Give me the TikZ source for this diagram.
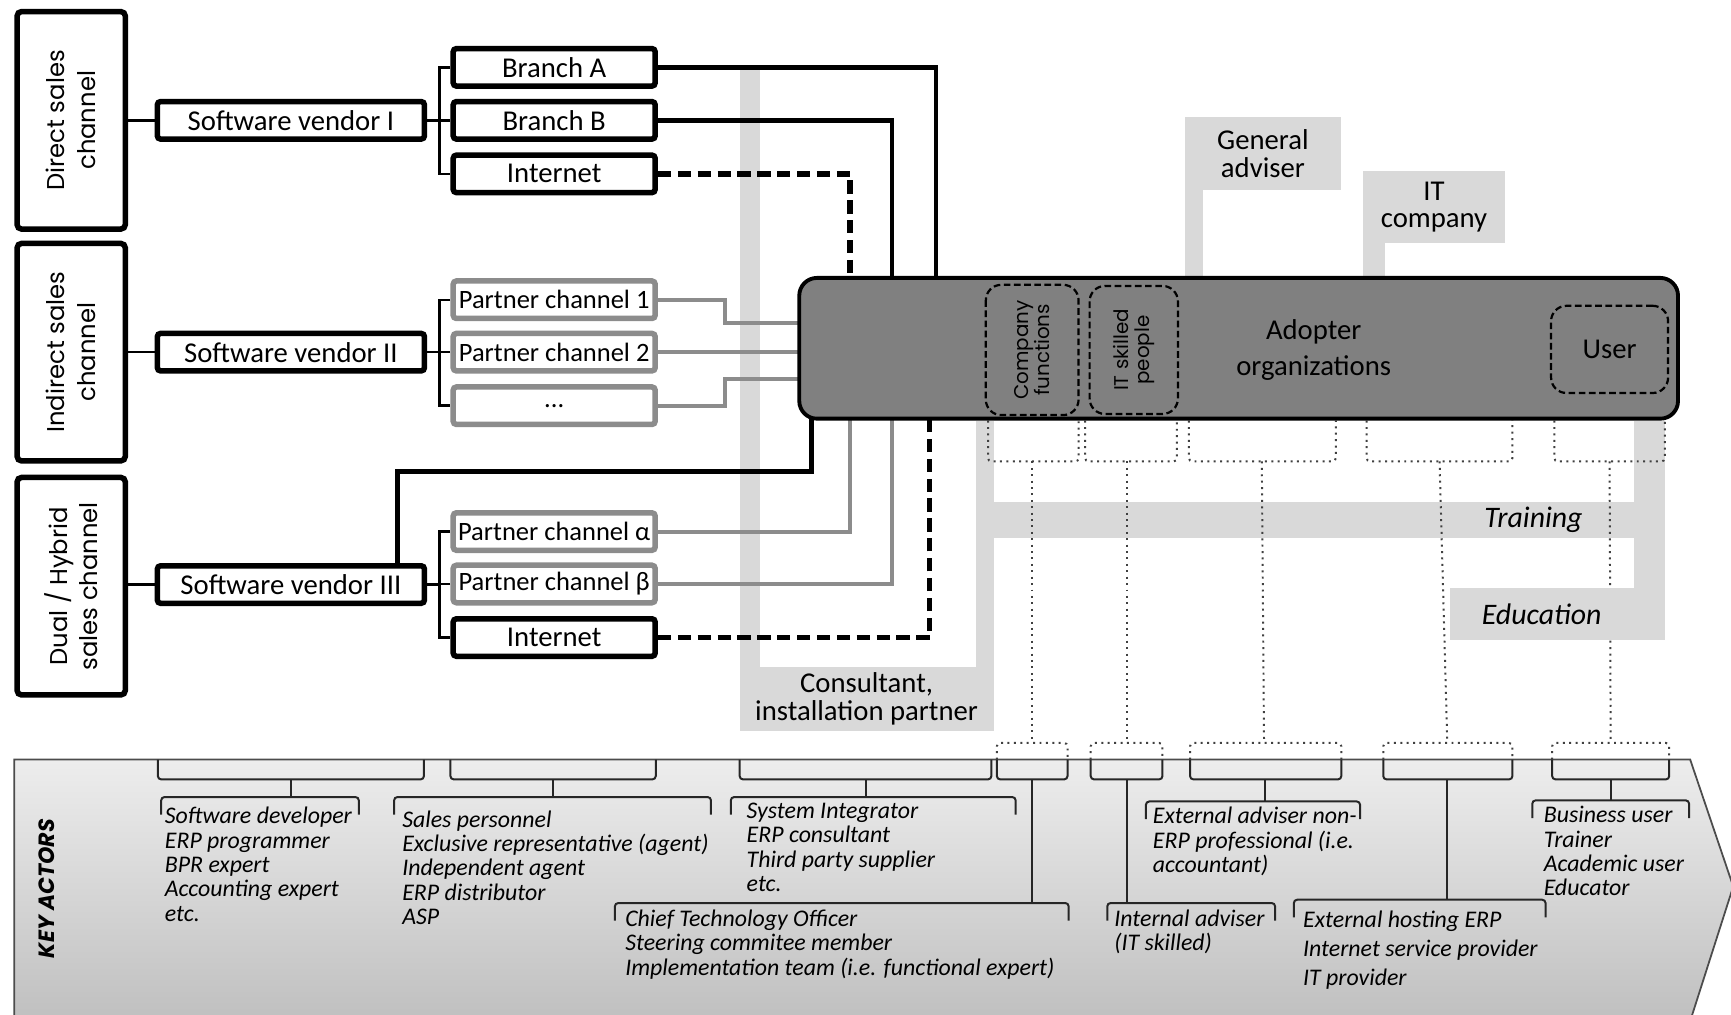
\documentclass[tikz,border=0pt]{standalone}
\usepackage{fontspec}
\setmainfont{Carlito}
\newfontfamily\geo{Poppins}
\usetikzlibrary{calc}
\definecolor{band}{HTML}{D9D9D9}
\definecolor{mgray}{HTML}{8C8C8C}
\definecolor{adop}{HTML}{808080}
\pgfdeclarelayer{back}
\pgfsetlayers{back,main}

\begin{document}
\begin{tikzpicture}[x=0.5pt,y=-0.5pt,
  box/.style={draw=black,line width=2.5pt,fill=white,rounded corners=1.5pt,inner sep=0pt,
    minimum width=91.5pt,minimum height=17pt,font=\fontsize{13}{15}\selectfont},
  pbox/.style={box,draw=mgray,font=\fontsize{12}{14}\selectfont},
  vendor/.style={box,minimum width=121pt},
  chan/.style={draw=black,line width=2.5pt,fill=white,rounded corners=2pt,inner sep=0pt,rotate=90,
    minimum width=98.5pt,minimum height=49pt,align=center,font=\geo\fontsize{11}{14}\selectfont},
  grp/.style={draw=black,dash pattern=on 3pt off 1.6pt,line width=1pt,rounded corners=7pt,inner sep=0pt,align=center},
  blk/.style={line width=2pt,black},
  gry/.style={line width=1.8pt,mgray},
  dsh/.style={line width=2.5pt,black,dash pattern=on 6pt off 3pt},
  tie/.style={line width=1.1pt,black},
  dots/.style={line width=0.9pt,black!75,dotted,rounded corners=1.5pt},
  brk/.style={line width=0.9pt,black!85,rounded corners=1.5pt},
  bandlbl/.style={fill=band,inner sep=0pt,align=center,font=\fontsize{13}{12.5}\selectfont},
  actor/.style={anchor=north west,inner sep=0pt,align=left,font=\itshape\fontsize{10.8}{11}\selectfont}
]
\useasboundingbox (0,0) rectangle (1568,919);

% sales channels
\node[chan] (DS) at (64.5,109) {Direct sales\\channel};
\node[chan] (IS) at (64.5,319) {Indirect sales\\channel};
\node[chan] (DH) at (64.5,531) {Dual / Hybrid\\sales channel};

% vendors
\node[vendor] (V1) at (263.5,109) {Software vendor I};
\node[vendor] (V2) at (263.5,319) {Software vendor II};
\node[vendor] (V3) at (263.5,529.5) {Software vendor III};

% outlets
\node[box] (BA) at (502,61) {Branch A};
\node[box] (BB) at (502,109) {Branch B};
\node[box] (I1) at (502,157.5) {Internet};
\node[pbox] (P1) at (502,271.5) {Partner channel 1};
\node[pbox] (P2) at (502,319) {Partner channel 2};
\node[pbox] (P3) at (502,367.5) {...};
\node[pbox] (PA) at (502,481.5) {Partner channel α};
\node[pbox] (PB) at (502,529) {Partner channel β};
\node[box] (I2) at (502,577.5) {Internet};

% adopter organizations
\node[draw=black,line width=1.75pt,fill=adop,rounded corners=8pt,minimum width=398pt,
  minimum height=63.75pt,inner sep=0pt] (adopt) at (1122,315.5) {};
\node[grp,rotate=90,minimum width=59pt,minimum height=42pt,font=\geo\fontsize{9}{9.5}\selectfont] (CF) at (935,317) {Company\\functions};
\node[grp,rotate=90,minimum width=58pt,minimum height=40pt,font=\geo\fontsize{9}{9.5}\selectfont] (ITS) at (1027,317) {IT skilled\\people};
\node[grp,minimum width=53pt,minimum height=39.5pt,font=\fontsize{13}{15}\selectfont] (US) at (1458,316.5) {User};
\node[align=center,inner sep=0pt,font=\fontsize{13}{16.5}\selectfont] (AO) at (1190,317) {Adopter\\organizations};

% support actors
\node[bandlbl,minimum width=71pt,minimum height=33pt] (GA) at (1144,139) {General\\adviser};
\node[bandlbl,minimum width=64pt,minimum height=32.5pt] (ITC) at (1299,187.5) {IT\\company};
\node[bandlbl,minimum width=115pt,minimum height=29pt] (CON) at (785,633) {Consultant,\\installation partner};
\node[bandlbl,minimum width=83.5pt,minimum height=23.5pt,font=\itshape\fontsize{13.5}{14}\selectfont] (EDU) at (1396.5,556.5) {Education};
\node[inner sep=0pt,font=\itshape\fontsize{13.5}{14}\selectfont] (TRN) at (1389,471) {Training};

% bend positions
\coordinate (xA) at (848,0);
\coordinate (xB) at (808,0);
\coordinate (xI) at (770,0);
\coordinate (xP) at (657,0);
\coordinate (xN) at (842,0);
\coordinate (xV) at (360,0);
\coordinate (xL) at (735,0);
\coordinate (yV) at (0,427);
\coordinate (y1) at (0,293);
\coordinate (y3) at (0,343);
\coordinate (jx) at (398,0);

\begin{pgfonlayer}{back}
  % key actors arrow
  \shade[top color=gray!14,bottom color=gray!50] (13,688) -- (1531,688) -- (1570,803) -- (1531,925) -- (13,925) -- cycle;
  \draw[line width=0.8pt,black!70] (13,925) -- (13,688) -- (1531,688) -- (1570,803) -- (1531,925);

  % light bands
  \fill[band] (670,60) rectangle (688,604);
  \fill[band] (884,381) rectangle (900,604);
  \fill[band] (884,455) rectangle (1508,487);
  \fill[band] (1480,381) rectangle (1508,580);
  \fill[band] (1073,170) rectangle (1090,252);
  \fill[band] (1235,218) rectangle (1255,252);

  % channel to vendor
  \draw[tie] (DS.south |- V1.west) -- (V1.west);
  \draw[tie] (IS.south |- V2.west) -- (V2.west);
  \draw[tie] (DH.south |- V3.west) -- (V3.west);

  % vendor to outlets
  \draw[tie] (V1.east) -- (V1.east -| jx);
  \draw[tie] (BA.west) -| (I1.west -| jx) -- (I1.west);
  \draw[tie] (BB.west) -- (BB.west -| jx);
  \draw[tie] (V2.east) -- (V2.east -| jx);
  \draw[tie] (P1.west) -| (P3.west -| jx) -- (P3.west);
  \draw[tie] (P2.west) -- (P2.west -| jx);
  \draw[tie] (V3.east) -- (V3.east -| jx);
  \draw[tie] (PA.west) -| (I2.west -| jx) -- (I2.west);
  \draw[tie] (PB.west) -- (PB.west -| jx);

  % outlets to adopters
  \draw[blk] (BA.east) -| (adopt.center -| xA);
  \draw[blk] (BB.east) -| (adopt.center -| xB);
  \draw[dsh] (I1.east) -| (adopt.center -| xI);
  \draw[gry] (P1.east) -| (y1 -| xP) -- (y1 -| adopt.center);
  \draw[gry] (P2.east) -- (P2.east -| adopt.center);
  \draw[gry] (P3.east) -| (y3 -| xP) -- (y3 -| adopt.center);
  \draw[blk] (V3.north -| xV) |- (yV -| xL) -- (adopt.center -| xL);
  \draw[gry] (PA.east) -| (adopt.center -| xI);
  \draw[gry] (PB.east) -| (adopt.center -| xB);
  \draw[dsh] (I2.east) -| (adopt.center -| xN);

  % dotted links from the adopter groups down to the actors
  \foreach \a/\b/\s/\c/\d/\t in {895/977/935/903/967/935, 983/1066/1020.5/988/1053/1020.5,
      1077/1210/1143/1078/1215/1145, 1238/1370/1304/1253/1370/1311, 1408/1508/1458/1406/1512/1459}{
    \draw[dots] (\a,381) -- (\a,418) -- (\b,418) -- (\b,381);
    \draw[dots] (\s,418) -- (\t,673);
    \draw[dots] (\c,688) -- (\c,673) -- (\d,673) -- (\d,688);
  }
\end{pgfonlayer}

% key actor brackets
\foreach \a/\b/\s/\y/\c/\d in {143/384/263.5/722/146/325, 408/594/501/722/357/644,
    670/898/784/722/662/920, 903/967/935/818/557/968, 988/1053/1020.5/818/1003/1155,
    1078/1215/1146/726/1038/1232, 1253/1370/1311/815/1172/1400, 1406/1512/1459/725/1388/1530}{
  \draw[brk] (\a,688) -- (\a,706) -- (\b,706) -- (\b,688);
  \draw[brk] (\s,706) -- (\s,\y);
  \draw[brk] (\c,\y+16) -- (\c,\y) -- (\d,\y) -- (\d,\y+16);
}

\node[rotate=90,inner sep=0pt,font=\geo\bfseries\itshape\fontsize{10}{12}\selectfont] (KA) at (42,805) {KEY ACTORS};

\node[actor] (T1) at (149,731) {Software developer\\ERP programmer\\BPR expert\\Accounting expert\\etc.};
\node[actor] (T2) at (364,734) {Sales personnel\\Exclusive representative (agent)\\Independent agent\\ERP distributor\\ASP};
\node[actor] (T3) at (676,727) {System Integrator\\ERP consultant\\Third party supplier\\etc.};
\node[actor] (T4) at (566,824) {Chief Technology Officer\\Steering commitee member\\Implementation team (i.e. functional expert)};
\node[actor] (T5) at (1009,824) {Internal adviser\\(IT skilled)};
\node[actor] (T6) at (1044,731) {External adviser non-\\ERP professional (i.e.\\accountant)};
\node[actor,font=\itshape\fontsize{10.8}{13}\selectfont] (T7) at (1180,825) {External hosting ERP\\Internet service provider\\IT provider};
\node[actor] (T8) at (1398,730) {Business user\\Trainer\\Academic user\\Educator};
\end{tikzpicture}
\end{document}
